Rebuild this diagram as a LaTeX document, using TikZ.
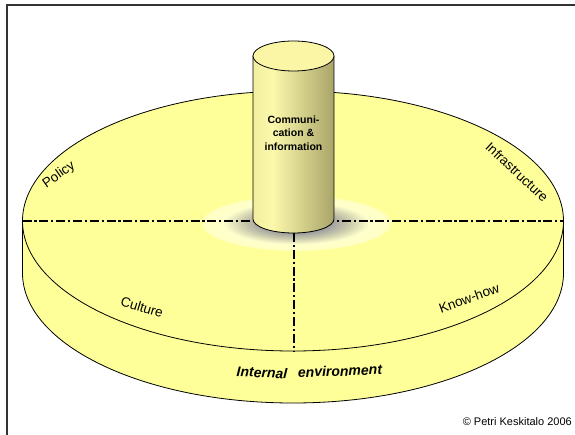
\documentclass[tikz,border=0pt]{standalone}
\usepackage{fontspec}
\setmainfont{Liberation Sans}
\definecolor{diskyellow}{HTML}{FFFF99}
\definecolor{cylA}{HTML}{F2EE9E}
\definecolor{cylB}{HTML}{FCF9AC}
\definecolor{cylC}{HTML}{A9A468}
\definecolor{cyltop}{HTML}{FAF6A6}
\definecolor{glowpale}{HTML}{FFFFCC}
\definecolor{framegray}{HTML}{333333}
\pgfdeclarehorizontalshading{cylshade}{100bp}{color(0bp)=(cylA); color(25bp)=(cylA); color(37bp)=(cylB); color(75bp)=(cylC); color(100bp)=(cylC)}
\pgfdeclareradialshading{glow}{\pgfpoint{0bp}{0bp}}{color(0bp)=(gray!80!black); color(9bp)=(gray!75); color(14bp)=(gray!40!glowpale); color(19bp)=(glowpale); color(24bp)=(glowpale!85!diskyellow); color(25bp)=(diskyellow); color(50bp)=(diskyellow)}
\tikzset{
  edge/.style={black, line width=0.8pt},
  axisline/.style={black, line width=2.2pt, dash pattern=on 9pt off 2.8pt on 2.2pt off 2.8pt},
  lbl/.style={font=\fontsize{13.5}{15}\selectfont, inner sep=0pt},
  cyltext/.style={font=\fontsize{10.5}{13.5}\selectfont\bfseries, align=center, inner sep=0pt},
  envtext/.style={font=\fontsize{14}{16}\selectfont\bfseries\itshape, inner sep=0pt},
}
\begin{document}
\begin{tikzpicture}[x=1pt, y=-1pt]
\useasboundingbox (0,0) rectangle (575,435);
% frame
\draw[framegray, line width=1.8pt] (7,445) -- (7,5) -- (585,5);
% coordinates
\coordinate (L) at (22.5,221);
\coordinate (R) at (563.5,221);
\coordinate (C) at (293,221);
\coordinate (Lb) at (22.5,273);
\coordinate (Rb) at (563.5,273);
\coordinate (F) at (294,351);
\coordinate (Cb) at (294,233);
% disk side
\fill[diskyellow] (L) -- (Lb) arc[start angle=180, end angle=0, x radius=270.5, y radius=130] -- (R) -- cycle;
\draw[edge] (L) -- (Lb) arc[start angle=180, end angle=0, x radius=270.5, y radius=130] -- (R);
% disk top
\filldraw[edge, fill=diskyellow] (C) ellipse[x radius=270.5, y radius=130];
% glow
\shade[shading=glow] (296,223) ellipse[x radius=96, y radius=28];
% axes
\draw[axisline] (L) -- (R);
\draw[axisline] (Cb) -- (F);
% cylinder
\shade[shading=cylshade, draw=black, line width=0.8pt] (253,56) -- (253,219) arc[start angle=180, end angle=0, x radius=40.5, y radius=14] -- (334,56) -- cycle;
\filldraw[edge, fill=cyltop] (293.5,56) ellipse[x radius=40.5, y radius=15];
\node[cyltext] (comm) at (293.5,133) {Communi-\\cation \&\\information};
% labels
\node[lbl, rotate=35] (policy) at (59,175) {Policy};
\node[lbl, rotate=-43] (infra) at (517,172) {Infrastructure};
\node[lbl, rotate=-17] (culture) at (142,307) {Culture};
\node[lbl, rotate=20] (knowhow) at (469,298) {Know-how};
\node[envtext, rotate=-3] (internal) at (262,372.5) {Internal};
\node[envtext, rotate=2] (environment) at (340,371) {environment};
\node[font=\fontsize{11}{13}\selectfont, inner sep=0pt, anchor=east] (copy) at (572,422) {© Petri Keskitalo 2006};
\end{tikzpicture}
\end{document}
